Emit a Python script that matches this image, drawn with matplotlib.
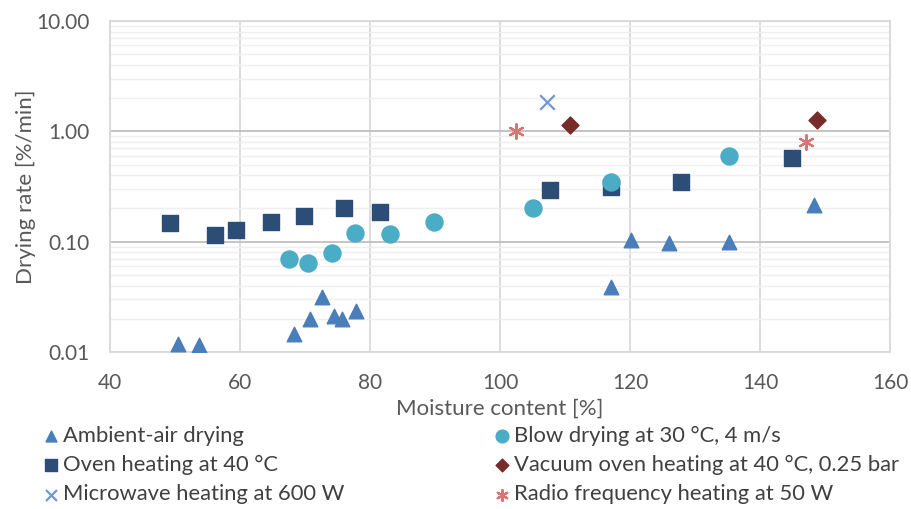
import matplotlib
matplotlib.use('Agg')
import matplotlib.pyplot as plt
from matplotlib.ticker import FixedLocator, FuncFormatter, LogLocator, NullFormatter

plt.rcParams['font.family'] = ['Lato', 'DejaVu Sans']

# Ambient-air drying
amb_x = [50.5, 53.7, 68.3, 70.7, 72.6, 74.5, 75.7, 77.9, 117.0, 120.2, 126.0, 135.2, 148.3]
amb_y = [0.0117, 0.0115, 0.0145, 0.0198, 0.0316, 0.0211, 0.0198, 0.0236, 0.039, 0.1035, 0.0966, 0.100, 0.216]
# Blow drying at 30 °C, 4 m/s
blow_x = [67.5, 70.5, 74.1, 77.7, 83.0, 89.9, 105.0, 117.1, 135.3]
blow_y = [0.069, 0.064, 0.079, 0.121, 0.1175, 0.151, 0.201, 0.351, 0.597]
# Oven heating at 40 °C
oven_x = [49.2, 56.2, 59.4, 64.7, 69.8, 76.0, 81.6, 107.7, 117.1, 127.8, 144.9]
oven_y = [0.147, 0.115, 0.128, 0.152, 0.170, 0.204, 0.187, 0.291, 0.312, 0.351, 0.569]
# Vacuum oven heating at 40 °C, 0.25 bar
vac_x = [110.7, 148.8]
vac_y = [1.15, 1.26]
# Microwave heating at 600 W
mw_x = [107.2]
mw_y = [1.84]
# Radio frequency heating at 50 W
rf_x = [102.5, 147.0]
rf_y = [1.00, 0.805]

fig = plt.figure(figsize=(9.11, 5.09), dpi=100)
ax = fig.add_axes([110/911, 1 - 352/509, 780/911, 331/509])

h_amb = ax.scatter(amb_x, amb_y, marker='^', s=110, color='#4a7ebb', zorder=3)
h_oven = ax.scatter(oven_x, oven_y, marker='s', s=130, color='#2c4d75', zorder=3)
h_mw = ax.scatter(mw_x, mw_y, marker='x', s=110, color='#7196d6', linewidths=1.6, zorder=3)
h_blow = ax.scatter(blow_x, blow_y, marker='o', s=150, color='#4bacc6', zorder=3)
h_vac = ax.scatter(vac_x, vac_y, marker='D', s=75, color='#772c2a', zorder=3)
h_rf = ax.scatter(rf_x, rf_y, marker=(6, 2, 0), s=110, color='#d87474', linewidths=1.6, zorder=3)

ax.set_yscale('log')
ax.set_xlim(40, 160)
ax.set_ylim(0.01, 10)
ax.xaxis.set_major_locator(FixedLocator([40, 60, 80, 100, 120, 140, 160]))
ax.yaxis.set_major_locator(FixedLocator([0.01, 0.1, 1, 10]))
ax.yaxis.set_major_formatter(FuncFormatter(lambda v, p: f'{v:.2f}'))
ax.yaxis.set_minor_locator(LogLocator(base=10, subs=range(2, 10)))
ax.yaxis.set_minor_formatter(NullFormatter())

ax.grid(True, which='major', axis='y', color='#bfbfbf', lw=1.3, zorder=0)
ax.grid(True, which='minor', axis='y', color='#efefef', lw=1.0, zorder=0)
ax.grid(True, which='major', axis='x', color='#d9d9d9', lw=1.3, zorder=0)
ax.tick_params(which='both', length=0, labelsize=15, labelcolor='#595959')
ax.tick_params(axis='x', pad=15)
ax.tick_params(axis='y', pad=15)
for s in ax.spines.values():
    s.set_color('#d9d9d9')
    s.set_linewidth(1.3)

ax.set_xlabel('Moisture content [%]', fontsize=16, color='#595959', labelpad=4)
ax.set_ylabel('Drying rate [%/min]', fontsize=16, color='#595959', labelpad=0)

# legend in two columns below the plot
kw = dict(loc='upper left', frameon=False, fontsize=15.8, markerscale=0.75,
          handlelength=0.6, handletextpad=0.25, labelspacing=0.42, labelcolor='#404040')
fig.legend([h_amb, h_oven, h_mw],
           ['Ambient-air drying', 'Oven heating at 40 °C', 'Microwave heating at 600 W'],
           bbox_to_anchor=(25/911, 1 - 406/509), **kw)
fig.legend([h_blow, h_vac, h_rf],
           ['Blow drying at 30 °C, 4 m/s', 'Vacuum oven heating at 40 °C, 0.25 bar',
            'Radio frequency heating at 50 W'],
           bbox_to_anchor=(476/911, 1 - 406/509), **kw)

fig.savefig('out.png', dpi=100)
